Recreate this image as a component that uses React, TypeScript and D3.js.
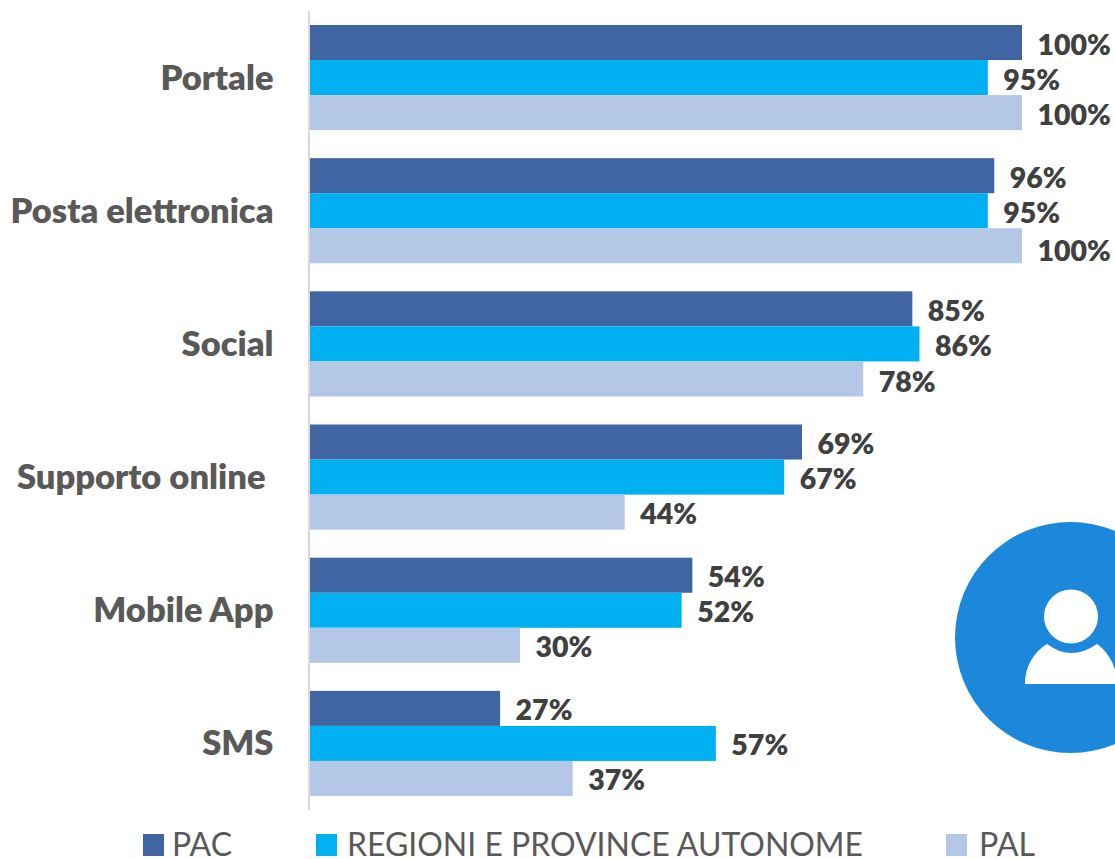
import React from "react";
import * as d3 from "d3";

const categories = ["Portale", "Posta elettronica", "Social", "Supporto online ", "Mobile App", "SMS"];
const seriesNames = ["PAC", "REGIONI E PROVINCE AUTONOME", "PAL"];
const seriesColors = ["#4165a2", "#00b0f0", "#b4c7e7"];
// Bar lengths
const pacValues = [100, 96.1, 84.6, 69.1, 53.7, 26.7];
const regioniValues = [95.2, 95.2, 85.6, 66.6, 52.2, 57];
const palValues = [100, 100, 77.7, 44.2, 29.5, 36.9];
// Printed labels
const pacLabels = ["100%", "96%", "85%", "69%", "54%", "27%"];
const regioniLabels = ["95%", "95%", "86%", "67%", "52%", "57%"];
const palLabels = ["100%", "100%", "78%", "44%", "30%", "37%"];

const values = [pacValues, regioniValues, palValues];
const labels = [pacLabels, regioniLabels, palLabels];
const labelNudge: Record<string, number> = { "1-2": 3, "2-2": 1 };

const FONT = "Lato, Carlito, sans-serif";
const x = d3.scaleLinear().domain([0, 100]).range([310, 1022]);
const y = d3.scaleBand<number>().domain(d3.range(categories.length)).range([25, 796]).paddingInner(28 / 133).paddingOuter(0);
const inner = d3.scaleBand<number>().domain([0, 1, 2]).range([0, y.bandwidth()]);

const legendItems = [
  { swatch: 143, text: 172, width: 60 },
  { swatch: 316, text: 347, width: 516 },
  { swatch: 946, text: 979, width: 56 },
];

export default function App() {
  return (
    <svg width={1115} height={859} style={{ position: "absolute", left: 0, top: 0, background: "#fff" }} fontFamily={FONT}>
      <rect x={308} y={11} width={2} height={799} fill="#d9d9d9" />
      {categories.map((c, i) => (
        <g key={c}>
          <text x={273.5} y={y(i)! + y.bandwidth() / 2 + 12} textAnchor="end" fontSize={34.5} fontWeight={800} fill="#595959" style={{ whiteSpace: "pre" }}>{c}</text>
          {values.map((v, s) => (
            <g key={s}>
              <rect x={x(0)} y={y(i)! + inner(s)!} width={x(v[i]) - x(0)} height={inner.bandwidth()} fill={seriesColors[s]} />
              <text x={x(v[i]) + 15.5} y={y(i)! + inner(s)! + inner.bandwidth() / 2 + 12 + (labelNudge[`${i}-${s}`] ?? 0)} fontSize={28.5} fontWeight={800} fill="#404040">{labels[s][i]}</text>
            </g>
          ))}
        </g>
      ))}
      {seriesNames.map((n, s) => (
        <g key={n}>
          <rect x={legendItems[s].swatch} y={834} width={21} height={22} fill={seriesColors[s]} />
          <text x={legendItems[s].text} y={856} fontSize={33} fill="#595959" textLength={legendItems[s].width} lengthAdjust="spacingAndGlyphs">{n}</text>
        </g>
      ))}
      <circle cx={1070.5} cy={637.5} r={115.5} fill="#1b88dc" />
      <circle cx={1071} cy={616.5} r={27} fill="#fff" />
      <path d="M1025 684 C1025 666 1034 652 1047 644 Q1071 662 1097 644 C1108 652 1117 666 1117 684 Z" fill="#fff" />
    </svg>
  );
}
